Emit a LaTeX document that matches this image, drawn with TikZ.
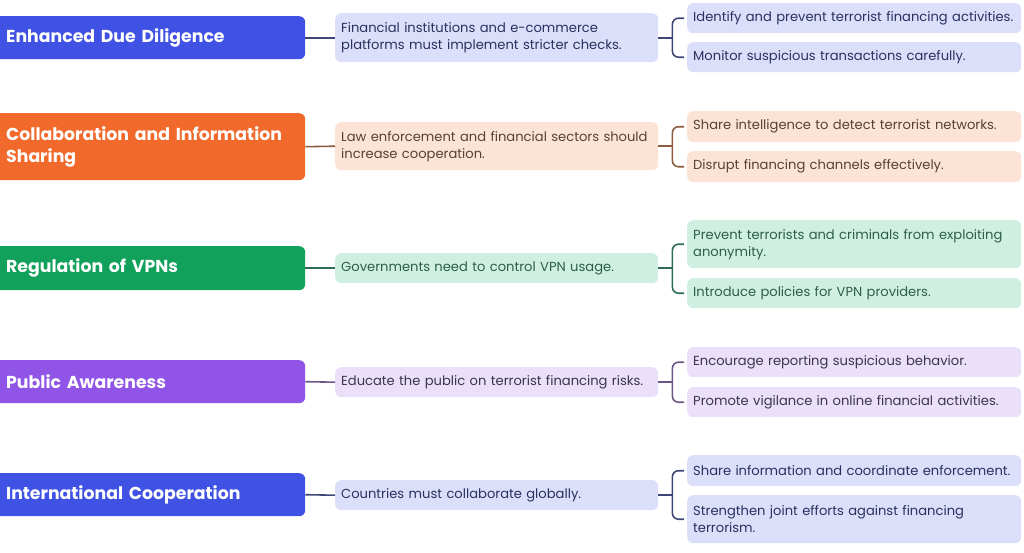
\documentclass[tikz,border=0pt]{standalone}
\usepackage{fontspec}
\setmainfont{Poppins}
\usetikzlibrary{calc}
\definecolor{cA}{HTML}{4052E4}
\definecolor{cB}{HTML}{F26A2B}
\definecolor{cC}{HTML}{12A15B}
\definecolor{cD}{HTML}{9055E6}
\definecolor{lA}{HTML}{DCDFF9}
\definecolor{lB}{HTML}{FDE3D5}
\definecolor{lC}{HTML}{CFF0E0}
\definecolor{lD}{HTML}{EAE0FA}
\definecolor{kA}{HTML}{3E4677}
\definecolor{kB}{HTML}{8C5A3E}
\definecolor{kC}{HTML}{2E6B53}
\definecolor{kD}{HTML}{6A5886}
\definecolor{tA}{HTML}{2A3060}
\definecolor{tB}{HTML}{5A4034}
\definecolor{tC}{HTML}{2E5E4A}
\definecolor{tD}{HTML}{3C3452}
\newcommand{\nohyph}{\hyphenpenalty=10000\exhyphenpenalty=10000\relax}
\tikzset{
  mainbox/.style={rounded corners=6pt, anchor=north west, inner xsep=16pt, inner ysep=0pt,
    text width=283pt, minimum width=315pt, align=left, text=white,
    font=\fontsize{17.3}{22}\selectfont\bfseries\nohyph},
  midbox/.style={rounded corners=6pt, anchor=north west, inner xsep=6pt, inner ysep=0pt,
    text width=311pt, minimum width=323pt, align=left,
    font=\fontsize{13.1}{17}\selectfont\nohyph},
  leafbox/.style={rounded corners=6pt, anchor=north west, inner xsep=6pt, inner ysep=0pt,
    text width=322pt, minimum width=334pt, align=left,
    font=\fontsize{13.1}{17}\selectfont\nohyph},
  conn/.style={line width=1.6pt, rounded corners=6pt},
}
\begin{document}
\begin{tikzpicture}[x=1pt,y=-1pt]
\useasboundingbox (0,0) rectangle (1024,552);
% Row 1
\node[mainbox, fill=cA, minimum height=43pt] (m1) at (-10,16) {Enhanced Due Diligence};
\node[midbox, fill=lA, text=tA, minimum height=49pt] (d1) at (335,13) {Financial institutions and e-commerce platforms must implement stricter checks.};
\node[leafbox, fill=lA, text=tA, minimum height=30pt] (a1) at (687,3) {Identify and prevent terrorist financing activities.};
\node[leafbox, fill=lA, text=tA, minimum height=30pt] (b1) at (687,42) {Monitor suspicious transactions carefully.};
% Row 2
\node[mainbox, fill=cB, minimum height=67pt] (m2) at (-10,113) {Collaboration and Information Sharing};
\node[midbox, fill=lB, text=tB, minimum height=48pt] (d2) at (335,122) {Law enforcement and financial sectors should increase cooperation.};
\node[leafbox, fill=lB, text=tB, minimum height=31pt] (a2) at (687,111) {Share intelligence to detect terrorist networks.};
\node[leafbox, fill=lB, text=tB, minimum height=31pt] (b2) at (687,151) {Disrupt financing channels effectively.};
% Row 3
\node[mainbox, fill=cC, minimum height=44pt] (m3) at (-10,246) {Regulation of VPNs};
\node[midbox, fill=lC, text=tC, minimum height=30pt] (d3) at (335,253) {Governments need to control VPN usage.};
\node[leafbox, fill=lC, text=tC, minimum height=48pt] (a3) at (687,220) {Prevent terrorists and criminals from exploiting anonymity.};
\node[leafbox, fill=lC, text=tC, minimum height=30pt] (b3) at (687,278) {Introduce policies for VPN providers.};
% Row 4
\node[mainbox, fill=cD, minimum height=43pt] (m4) at (-10,360) {Public Awareness};
\node[midbox, fill=lD, text=tD, minimum height=30pt] (d4) at (335,367) {Educate the public on terrorist financing risks.};
\node[leafbox, fill=lD, text=tD, minimum height=30pt] (a4) at (687,347) {Encourage reporting suspicious behavior.};
\node[leafbox, fill=lD, text=tD, minimum height=30pt] (b4) at (687,387) {Promote vigilance in online financial activities.};
% Row 5
\node[mainbox, fill=cA, minimum height=43pt] (m5) at (-10,473) {International Cooperation};
\node[midbox, fill=lA, text=tA, minimum height=30pt] (d5) at (335,480) {Countries must collaborate globally.};
\node[leafbox, fill=lA, text=tA, minimum height=31pt] (a5) at (687,455) {Share information and coordinate enforcement.};
\node[leafbox, fill=lA, text=tA, minimum height=48pt] (b5) at (687,495) {Strengthen joint efforts against financing terrorism.};
% connectors
\foreach \i/\k in {1/kA,2/kB,3/kC,4/kD,5/kA}{
  \coordinate (j\i) at ($(d\i.east)+(14,0)$);
  \draw[conn, draw=\k] (m\i.east) -- (d\i.west);
  \draw[conn, draw=\k] (d\i.east) -- (j\i);
  \draw[conn, draw=\k] ([xshift=-3pt]a\i.west) -| (j\i) |- ([xshift=-3pt]b\i.west);
}
\end{tikzpicture}
\end{document}
